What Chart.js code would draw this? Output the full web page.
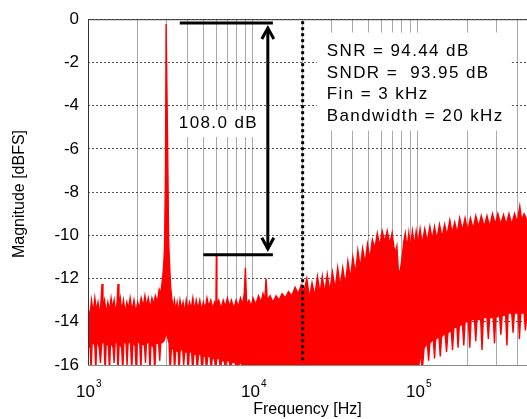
<!DOCTYPE html>
<html>
<head>
<meta charset="utf-8">
<script src="https://cdn.jsdelivr.net/npm/chart.js@4.4.1/dist/chart.umd.min.js"></script>
<style>
  html, body { margin: 0; padding: 0; background: #fff; }
  #wrap { width: 527px; height: 419px; position: relative; }
</style>
</head>
<body>
<div id="wrap"><canvas id="fft"></canvas></div>
<script>
// spectrum: upper edge of the noise (with the 3 kHz tone and harmonics)
const topHz = [1000, 1025, 1050, 1075, 1100, 1125, 1150, 1180, 1200, 1216, 1232, 1260, 1290, 1320, 1350, 1380, 1410, 1440, 1470, 1500,
  1520, 1540, 1570, 1600, 1640, 1680, 1720, 1760, 1800, 1850, 1900, 1950, 2000, 2050, 2100, 2160, 2213, 2260, 2320, 2380,
  2440, 2500, 2560, 2630, 2700, 2760, 2820, 2870, 2910, 2950, 2975, 3010, 3040, 3080, 3120, 3170, 3220, 3280, 3340, 3400,
  3470, 3540, 3610, 3690, 3770, 3850, 3940, 4030, 4120, 4220, 4320, 4420, 4530, 4640, 4760, 4880, 5000, 5130, 5260, 5400,
  5550, 5700, 5850, 5960, 6000, 6040, 6200, 6400, 6600, 6800, 7000, 7200, 7400, 7650, 7900, 8150, 8400, 8650, 8850, 9000,
  9150, 9450, 9750, 10000, 10400, 10800, 11200, 11500, 11800, 12000, 12200, 12700, 13200, 13800, 14400, 15000, 15700, 16400, 17200, 18000,
  18800, 19600, 20400, 21200, 22000, 22800, 23700, 24600, 25500, 26300, 27200, 28200, 29200, 30300, 31500, 32600, 33800, 35000, 36300, 37600,
  39000, 40300, 41800, 43200, 44700, 46200, 47800, 49400, 51100, 52900, 54800, 56700, 58700, 60700, 62900, 65100, 67400, 69700, 71300, 73000,
  74500, 76000, 77900, 80200, 82000, 83800, 86000, 88000, 90000, 92500, 95000, 97500, 100000, 103000, 106000, 110000, 114000, 118000, 122000, 126000,
  130000, 135000, 140000, 145000, 150000, 156000, 161000, 167000, 173000, 179000, 186000, 193000, 200000, 208000, 216000, 224000, 233000, 242000, 252000, 262000,
  272000, 283000, 294000, 305000, 317000, 330000, 343000, 356000, 370000, 385000, 400000, 414000, 425000, 440000, 458000];
const topDb = [-13.3, -13.8, -13.0, -13.6, -12.9, -13.5, -13.1, -13.7, -13.0, -12.25, -13.4, -13.0, -13.6, -13.1, -13.5, -12.9, -13.4, -13.0, -13.6, -13.1,
  -12.25, -13.3, -12.9, -13.5, -13.0, -13.6, -13.1, -13.4, -12.9, -13.5, -13.0, -13.6, -13.1, -13.4, -12.9, -13.3, -12.8, -13.3, -12.9, -13.4,
  -12.9, -13.2, -12.8, -13.1, -12.5, -12.7, -12.1, -11.5, -10.6, -7.0, -0.22, -0.22, -6.0, -10.2, -11.3, -12.4, -12.9, -13.4, -13.0, -13.5,
  -13.1, -13.6, -13.0, -13.4, -13.1, -13.6, -13.0, -13.5, -13.1, -13.4, -12.9, -13.5, -13.0, -13.4, -13.0, -13.5, -13.1, -13.4, -12.9, -13.3,
  -13.0, -13.4, -13.1, -13.3, -10.9, -13.2, -13.0, -13.4, -13.0, -13.3, -12.9, -13.3, -13.0, -13.4, -13.0, -13.3, -12.9, -13.2, -12.7, -11.5,
  -13.2, -13.0, -13.3, -12.9, -13.2, -12.8, -13.1, -12.7, -13.0, -12.0, -13.0, -12.8, -13.1, -12.8, -13.0, -12.7, -12.9, -12.6, -12.8, -12.4,
  -12.7, -12.3, -12.6, -12.0, -12.9, -12.2, -12.8, -11.9, -12.7, -11.9, -12.7, -11.8, -12.6, -11.7, -12.5, -11.5, -12.4, -11.5, -12.3, -11.2,
  -12.0, -11.0, -11.8, -10.7, -11.5, -10.6, -11.3, -10.4, -11.1, -10.2, -10.6, -9.9, -10.5, -9.8, -10.3, -9.8, -10.4, -9.9, -10.5, -10.8,
  -10.5, -11.6, -11.7, -11.0, -10.3, -9.9, -10.6, -9.9, -10.6, -9.8, -10.5, -9.8, -10.4, -9.7, -10.4, -9.7, -10.3, -9.6, -10.2, -9.6,
  -10.2, -9.5, -10.1, -9.5, -10.0, -9.3, -9.9, -9.4, -9.9, -9.2, -9.8, -9.2, -9.8, -9.2, -9.7, -9.1, -9.6, -9.1, -9.6, -9.1,
  -9.6, -9.0, -9.5, -9.0, -9.5, -9.05, -9.5, -9.0, -9.5, -9.0, -9.4, -8.65, -9.3, -9.0, -9.3];

// lower edge of the noise (dips run past the bottom of the axis)
const bottomHz = [1000, 1030, 1045, 1060, 1100, 1115, 1130, 1170, 1190, 1210, 1250, 1270, 1290, 1330, 1350, 1370, 1420, 1440, 1460, 1500,
  1520, 1545, 1600, 1625, 1650, 1700, 1725, 1750, 1810, 1840, 1870, 1930, 1960, 1990, 2060, 2090, 2120, 2200, 2230, 2260,
  2340, 2375, 2410, 2500, 2540, 2580, 2680, 2720, 2760, 2880, 2990, 3100, 3150, 3200, 3300, 3350, 3400, 3520, 3570, 3620,
  3750, 3800, 3860, 3990, 4050, 4110, 4250, 4310, 4380, 4530, 4600, 4670, 4830, 4900, 4980, 5150, 5230, 5310, 5500, 5580,
  5660, 5850, 5940, 6030, 6250, 6350, 6450, 6700, 6800, 6900, 7200, 7300, 7400, 7800, 8000, 8300, 8700, 9000, 10000, 20000,
  50000, 100000, 104000, 106000, 109000, 114000, 116000, 118000, 124000, 126000, 128000, 134000, 136500, 139000, 146000, 149000, 152000, 159000, 162000, 165000,
  172000, 175000, 178000, 186000, 189500, 193000, 202000, 206000, 210000, 220000, 224000, 228000, 240000, 244500, 249000, 262000, 267000, 272000, 286000, 291000,
  296000, 312000, 318000, 324000, 340000, 346000, 352000, 370000, 377000, 384000, 405000, 412000, 420000, 440000, 448000, 458000];
const bottomDb = [-15.0, -15.2, -16.3, -14.9, -15.1, -16.3, -14.8, -15.2, -15.9, -15.0, -14.9, -16.3, -15.0, -15.1, -16.3, -14.9, -15.2, -15.9, -15.0, -14.9,
  -16.3, -15.0, -15.2, -16.3, -14.9, -15.0, -16.0, -15.0, -14.9, -16.3, -15.0, -15.1, -16.3, -14.9, -15.0, -16.3, -15.0, -15.1, -15.9, -15.0,
  -14.9, -16.3, -15.0, -15.2, -16.3, -15.0, -15.0, -15.8, -15.0, -14.9, -14.5, -15.0, -16.3, -15.3, -15.2, -16.3, -15.3, -15.4, -16.3, -15.3,
  -15.3, -16.0, -15.4, -15.4, -16.3, -15.4, -15.4, -16.3, -15.5, -15.5, -16.3, -15.5, -15.5, -16.3, -15.6, -15.6, -16.3, -15.6, -15.6, -16.3,
  -15.7, -15.7, -16.3, -15.7, -15.7, -16.3, -15.8, -15.8, -16.3, -15.8, -15.8, -16.3, -15.9, -15.9, -16.3, -15.9, -16.0, -16.3, -16.3, -16.3,
  -16.3, -16.3, -15.4, -16.3, -15.2, -15.0, -15.8, -15.0, -14.8, -15.7, -14.8, -14.7, -15.6, -14.7, -14.5, -15.4, -14.5, -14.4, -15.3, -14.3,
  -14.2, -15.2, -14.2, -14.1, -15.1, -14.0, -14.0, -15.2, -13.9, -13.9, -14.9, -13.9, -13.9, -15.3, -13.8, -13.8, -14.8, -13.8, -13.8, -15.0,
  -13.8, -13.7, -14.6, -13.7, -13.7, -15.1, -13.6, -13.6, -14.5, -13.6, -13.6, -14.8, -13.6, -13.6, -14.4, -13.6];

// axis ticks
const yTicks = [0, -2, -4, -6, -8, -10, -12, -14, -16];
const decades = [1000, 10000, 100000];
const xMin = 1000, xMax = 458000;

// annotation values
const signalDb = -0.18;      // top bar (tone level)
const spurDb = -10.9;        // bottom bar (largest harmonic)
const barLeftHz = [3600, 5000];
const barRightHz = 13200;
const arrowHz = 12300;
const bandwidthHz = 20000;
const rangeLabel = '108.0 dB';
const infoLines = ['SNR = 94.44 dB', 'SNDR =  93.95 dB', 'Fin = 3 kHz', 'Bandwidth = 20 kHz'];

const RED = '#ff0000';
const toPts = (hz, db) => hz.map((f, i) => ({ x: f, y: db[i] }));
// closed outline of the noise band: along the top edge, back along the bottom edge
const bandPts = toPts(topHz, topDb).concat(toPts(bottomHz, bottomDb).reverse());

const gridTicks = [];
decades.forEach(d => { for (let m = 1; m <= 9; m++) if (m * d <= xMax) gridTicks.push(m * d); });

const annotate = {
  id: 'annotate',
  afterDatasetsDraw(chart) {
    const ctx = chart.ctx, a = chart.chartArea;
    const xs = chart.scales.x, ys = chart.scales.y;
    const px = v => xs.getPixelForValue(v), py = v => ys.getPixelForValue(v);
    ctx.save();

    // frame
    ctx.lineWidth = 1;
    ctx.strokeStyle = '#888';
    ctx.beginPath(); ctx.moveTo(a.left, a.bottom + 0.5); ctx.lineTo(a.right, a.bottom + 0.5); ctx.stroke();
    ctx.strokeStyle = '#333';
    ctx.beginPath(); ctx.moveTo(a.left + 0.5, a.bottom); ctx.lineTo(a.left + 0.5, a.top + 0.5); ctx.lineTo(a.right, a.top + 0.5); ctx.stroke();

    // bandwidth marker
    ctx.strokeStyle = '#000';
    ctx.lineWidth = 3;
    ctx.setLineDash([3, 3]);
    ctx.beginPath(); ctx.moveTo(px(bandwidthHz), a.top + 2); ctx.lineTo(px(bandwidthHz), a.bottom - 4); ctx.stroke();
    ctx.setLineDash([]);

    // level bars and arrow
    ctx.lineWidth = 3;
    ctx.beginPath();
    ctx.moveTo(px(barLeftHz[0]), py(signalDb)); ctx.lineTo(px(barRightHz), py(signalDb));
    ctx.moveTo(px(barLeftHz[1]), py(spurDb)); ctx.lineTo(px(barRightHz), py(spurDb));
    ctx.stroke();
    const ax = px(arrowHz), y1 = py(signalDb) + 5, y2 = py(spurDb) - 6;
    ctx.beginPath(); ctx.moveTo(ax, y1 + 2); ctx.lineTo(ax, y2 - 2); ctx.stroke();
    ctx.lineJoin = 'miter';
    ctx.beginPath();
    ctx.moveTo(ax - 6, y1 + 11); ctx.lineTo(ax, y1); ctx.lineTo(ax + 6, y1 + 11);
    ctx.moveTo(ax - 6, y2 - 11); ctx.lineTo(ax, y2); ctx.lineTo(ax + 6, y2 - 11);
    ctx.stroke();

    // text boxes
    ctx.font = '17px "Liberation Sans", Arial, sans-serif';
    ctx.letterSpacing = '1.4px';
    ctx.textBaseline = 'middle';
    ctx.textAlign = 'left';
    const ly = py(-4.8);
    ctx.fillStyle = '#fff';
    ctx.fillRect(px(3500) - 3, ly - 13, ax - px(3500) - 2, 27);
    ctx.fillStyle = '#000';
    ctx.fillText(rangeLabel, px(3550), ly);

    const tx = px(28000), ty = py(-1.5);
    ctx.fillStyle = '#fff';
    ctx.fillRect(tx - 10, ty - 19, 193, 98);
    ctx.fillStyle = '#000';
    infoLines.forEach((s, i) => ctx.fillText(s, tx, ty + i * 21.5));

    // x tick labels 10^n
    ctx.letterSpacing = '0px';
    decades.forEach(d => {
      const x = px(d), n = Math.round(Math.log10(d));
      ctx.font = '17px "Liberation Sans", Arial, sans-serif';
      ctx.textAlign = 'right';
      ctx.fillText('10', x + 7, 392);
      ctx.font = '10px "Liberation Sans", Arial, sans-serif';
      ctx.textAlign = 'left';
      ctx.fillText(String(n), x + 8, 384);
    });

    // axis titles
    ctx.font = '16px "Liberation Sans", Arial, sans-serif';
    ctx.textAlign = 'center';
    ctx.fillText('Frequency [Hz]', (a.left + a.right) / 2, 410);
    ctx.save();
    ctx.translate(20, 194);
    ctx.rotate(-Math.PI / 2);
    ctx.fillText('Magnitude [dBFS]', 0, 0);
    ctx.restore();

    ctx.restore();
  }
};

new Chart(document.getElementById('fft'), {
  type: 'line',
  data: {
    datasets: [
      { data: bandPts, borderColor: RED, backgroundColor: RED, borderWidth: 1.4, fill: 'shape', pointRadius: 0, tension: 0 }
    ]
  },
  options: {
    responsive: true,
    maintainAspectRatio: false,
    animation: false,
    events: [],
    layout: { padding: { top: 15, right: 0, left: 0, bottom: 0 } },
    plugins: { legend: { display: false }, tooltip: { enabled: false } },
    scales: {
      x: {
        type: 'logarithmic',
        min: xMin,
        max: xMax,
        afterBuildTicks: s => { s.ticks = gridTicks.map(v => ({ value: v })); },
        afterFit: s => { s.height = 54; },
        ticks: { display: false },
        grid: { color: '#aaa', lineWidth: 1, drawTicks: false },
        border: { display: false }
      },
      y: {
        min: -16,
        max: 0,
        afterBuildTicks: s => { s.ticks = yTicks.map(v => ({ value: v })); },
        afterFit: s => { s.width = 88; },
        ticks: { color: '#000', padding: 9, font: { family: '"Liberation Sans", Arial, sans-serif', size: 17 } },
        grid: { color: '#555', lineWidth: 1, drawTicks: false },
        border: { display: false, dash: [2, 2] }
      }
    }
  },
  plugins: [annotate]
});
</script>
</body>
</html>
